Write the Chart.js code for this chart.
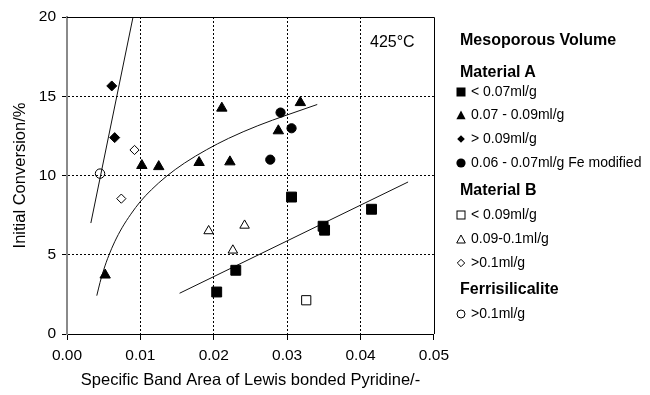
<!DOCTYPE html>
<html>
<head>
<meta charset="utf-8">
<script src="https://cdn.jsdelivr.net/npm/chart.js@4.4.1/dist/chart.umd.min.js"></script>
<style>
  body { margin: 0; background: #fff; }
  #wrap { position: relative; width: 650px; height: 395px; font-family: "Liberation Sans", Arial, sans-serif; color: #000; }
  #plot { position: absolute; left: 0; top: 0; width: 455px; height: 395px; }
  .lg { position: absolute; left: 456px; white-space: nowrap; font-size: 14px; line-height: 16px; height: 16px; }
  .lg.head { left: 460px; font-weight: bold; font-size: 16px; line-height: 18px; height: 18px; }
  .lg svg { display: inline-block; width: 10px; height: 10px; margin-right: 5px; vertical-align: -1px; }
  #temp { position: absolute; left: 370px; top: 33px; font-size: 16px; line-height: 18px; }
</style>
</head>
<body>
<div id="wrap">
  <div id="plot"><canvas id="chart"></canvas></div>
  <div id="temp">425°C</div>

  <div class="lg head" style="top:31px">Mesoporous Volume</div>
  <div class="lg head" style="top:63px">Material A</div>
  <div class="lg" style="top:83px"><svg viewBox="0 0 10 10"><rect x="0.5" y="0.5" width="9" height="9" fill="#000"/></svg>&lt; 0.07ml/g</div>
  <div class="lg" style="top:106px"><svg viewBox="0 0 10 10"><polygon points="5,0.5 9.6,9.3 0.4,9.3" fill="#000"/></svg>0.07 - 0.09ml/g</div>
  <div class="lg" style="top:130px"><svg viewBox="0 0 10 10"><polygon points="5,1.2 8.8,5 5,8.8 1.2,5" fill="#000"/></svg>&gt; 0.09ml/g</div>
  <div class="lg" style="top:154px"><svg viewBox="0 0 10 10"><circle cx="5" cy="5" r="4.6" fill="#000"/></svg>0.06 - 0.07ml/g Fe modified</div>
  <div class="lg head" style="top:181px">Material B</div>
  <div class="lg" style="top:206px"><svg viewBox="0 0 10 10"><rect x="1" y="1" width="8" height="8" fill="none" stroke="#000" stroke-width="1"/></svg>&lt; 0.09ml/g</div>
  <div class="lg" style="top:230px"><svg viewBox="0 0 10 10"><polygon points="5,1 9.3,9 0.7,9" fill="none" stroke="#000" stroke-width="1"/></svg>0.09-0.1ml/g</div>
  <div class="lg" style="top:254px"><svg viewBox="0 0 10 10"><polygon points="5,1.3 8.7,5 5,8.7 1.3,5" fill="none" stroke="#000" stroke-width="1"/></svg>&gt;0.1ml/g</div>
  <div class="lg head" style="top:280px">Ferrisilicalite</div>
  <div class="lg" style="top:305px"><svg viewBox="0 0 10 10"><circle cx="5" cy="5" r="4" fill="none" stroke="#000" stroke-width="1"/></svg>&gt;0.1ml/g</div>
</div>

<script>
// [band area, initial conversion %]
const matA_below007 = [[0.0204, 2.65], [0.0230, 4.02], [0.0306, 8.64], [0.0349, 6.80], [0.0351, 6.55], [0.0415, 7.87]];
const matA_007to009 = [[0.0052, 3.72], [0.0102, 10.63], [0.0125, 10.56], [0.0180, 10.82], [0.0222, 10.86], [0.0211, 14.25], [0.0288, 12.82], [0.0318, 14.60]];
const matA_above009 = [[0.0061, 15.65], [0.0065, 12.39]];
const matA_fe = [[0.0277, 11.00], [0.0291, 13.97], [0.0306, 12.98]];
const matB_below009 = [[0.0326, 2.13]];
const matB_009to01 = [[0.0193, 6.50], [0.0226, 5.28], [0.0242, 6.85]];
const matB_above01 = [[0.0092, 11.61], [0.0074, 8.54]];
const ferri_above01 = [[0.0045, 10.12]];

// trend lines
const fitSteep = [[0.00325, 7.0], [0.0090, 20.0]];
const fitCurve = [[0.00406, 2.42], [0.0045, 3.25], [0.0050, 4.05], [0.0057, 4.96], [0.0065, 5.82],
  [0.0075, 6.70], [0.0087, 7.56], [0.0100, 8.36], [0.0115, 9.10], [0.0135, 9.93], [0.0160, 10.78],
  [0.0190, 11.62], [0.0220, 12.34], [0.0260, 13.14], [0.0300, 13.82], [0.0341, 14.48]];
const fitLinear = [[0.01534, 2.57], [0.04648, 9.59]];

const xTicks = [0, 0.01, 0.02, 0.03, 0.04, 0.05];
const yTicks = [0, 5, 10, 15, 20];

const toXY = arr => arr.map(p => ({ x: p[0], y: p[1] }));

function markers(data, style, radius, filled) {
  return {
    data: toXY(data),
    pointStyle: style,
    pointRadius: radius,
    pointHoverRadius: radius,
    pointBackgroundColor: filled ? '#000' : 'rgba(0,0,0,0)',
    pointBorderColor: '#000',
    pointBorderWidth: 1,
    showLine: false
  };
}

function trend(data, smooth) {
  return {
    data: toXY(data),
    showLine: true,
    pointRadius: 0,
    borderColor: '#111',
    borderWidth: 1,
    cubicInterpolationMode: smooth ? 'monotone' : 'default',
    tension: 0
  };
}

// top and right edges of the plot box
const frame = {
  id: 'frame',
  afterDatasetsDraw(chart) {
    const { ctx, chartArea: a } = chart;
    ctx.save();
    ctx.strokeStyle = '#000';
    ctx.lineWidth = 1;
    ctx.beginPath();
    ctx.moveTo(a.left, Math.round(a.top) + 0.5);
    ctx.lineTo(Math.round(a.right) + 0.5, Math.round(a.top) + 0.5);
    ctx.lineTo(Math.round(a.right) + 0.5, a.bottom);
    ctx.stroke();
    ctx.restore();
  }
};

const family = "'Liberation Sans', Arial, sans-serif";
const tickFont = { family, size: 15.5 };
const titleFont = { family, size: 16.5 };

new Chart(document.getElementById('chart'), {
  type: 'scatter',
  data: {
    datasets: [
      markers(matA_below007, 'rect', 7, true),
      markers(matA_007to009, 'triangle', 6, true),
      markers(matA_above009, 'rectRot', 5, true),
      markers(matA_fe, 'circle', 4.6, true),
      markers(matB_below009, 'rect', 6.5, false),
      markers(matB_009to01, 'triangle', 5.5, false),
      markers(matB_above01, 'rectRot', 4.6, false),
      markers(ferri_above01, 'circle', 4.7, false),
      trend(fitSteep, false),
      trend(fitCurve, true),
      trend(fitLinear, false)
    ]
  },
  options: {
    responsive: true,
    maintainAspectRatio: false,
    animation: false,
    events: [],
    layout: { padding: { top: 17, right: 0, left: 0, bottom: 0 } },
    plugins: { legend: { display: false }, tooltip: { enabled: false } },
    scales: {
      x: {
        type: 'linear',
        min: 0,
        max: 0.05,
        afterBuildTicks: s => { s.ticks = xTicks.map(v => ({ value: v })); },
        afterFit: s => { s.height = 61; },
        ticks: { font: tickFont, color: '#000', padding: 6, maxRotation: 0, callback: v => v.toFixed(2) },
        grid: {
          color: c => (c.tick && (c.tick.value === 0 || c.tick.value === 0.05)) ? 'rgba(0,0,0,0)' : '#000',
          lineWidth: 1,
          tickLength: 6,
          tickColor: '#000'
        },
        border: { color: '#000', width: 1, dash: [2, 2] },
        title: {
          display: true,
          text: 'Specific Band Area of Lewis bonded Pyridine/-',
          font: titleFont, color: '#000',
          padding: { top: 4, bottom: 5 }
        }
      },
      y: {
        type: 'linear',
        min: 0,
        max: 20,
        afterBuildTicks: s => { s.ticks = yTicks.map(v => ({ value: v })); },
        afterFit: s => { s.width = 67; },
        ticks: { font: tickFont, color: '#000', padding: 6 },
        grid: {
          color: c => (c.tick && (c.tick.value === 0 || c.tick.value === 20)) ? 'rgba(0,0,0,0)' : '#000',
          lineWidth: 1,
          tickLength: 5,
          tickColor: '#000'
        },
        border: { color: '#8a8a8a', width: 2, dash: [2, 2] },
        title: {
          display: true,
          text: 'Initial Conversion/%',
          font: titleFont, color: '#000',
          padding: { top: 11, bottom: 0 }
        }
      }
    }
  },
  plugins: [frame]
});
</script>
</body>
</html>
